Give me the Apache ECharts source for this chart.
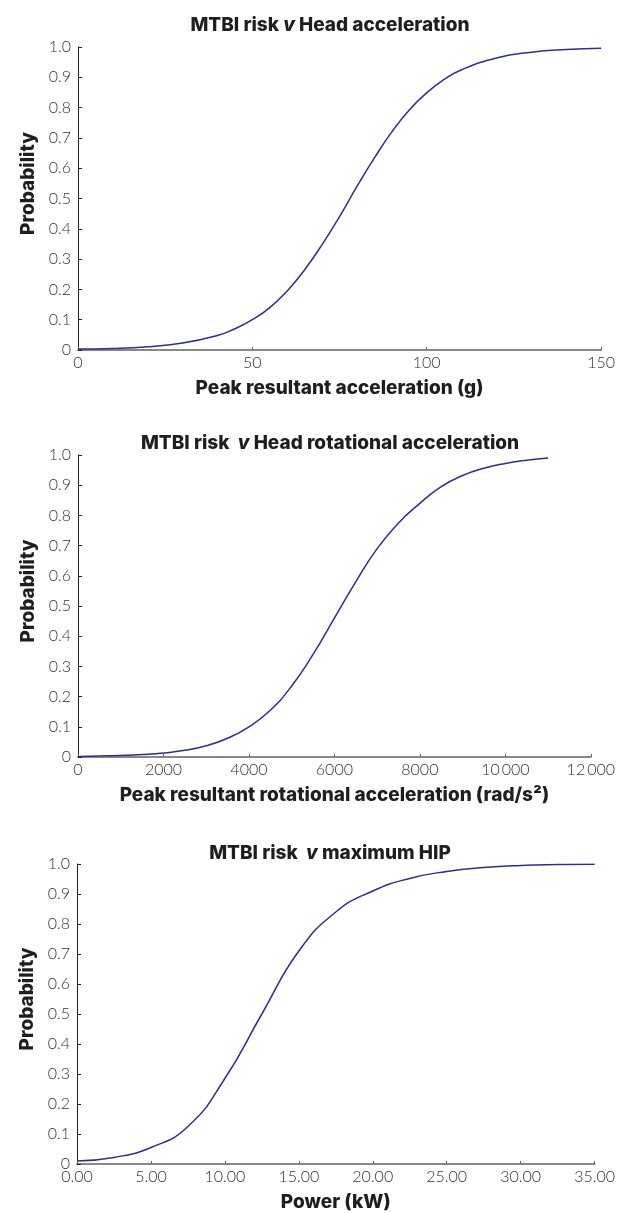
<!DOCTYPE html>
<html>
<head>
<meta charset="utf-8">
<script src="https://cdn.jsdelivr.net/npm/echarts@6/dist/echarts.min.js"></script>
<style>
  html, body { margin: 0; padding: 0; background: #fff; }
  #chart { width: 618px; height: 1213px; }
</style>
</head>
<body>
<div id="chart"></div>
<script>
// peak resultant acceleration (g) vs probability
const accelX = [0, 10, 20, 30, 40, 45, 50, 55, 60, 65, 70, 75, 80, 85, 90, 95, 100, 105, 110, 120, 130, 140, 150]
const accelP = [0.003, 0.005, 0.011, 0.023, 0.048, 0.07, 0.1, 0.14, 0.195, 0.265, 0.348, 0.44, 0.54, 0.634, 0.72, 0.792, 0.849, 0.893, 0.925, 0.964, 0.983, 0.992, 0.996]

// peak resultant rotational acceleration (rad/s2) vs probability
const rotX = [0, 500, 1000, 1500, 2000, 2500, 3000, 3500, 4000, 4500, 5000, 5500, 6000, 6500, 7000, 7500, 8000, 8500, 9000, 9500, 10000, 10500, 11000]
const rotP = [0.002, 0.003, 0.005, 0.008, 0.013, 0.022, 0.037, 0.062, 0.1, 0.155, 0.235, 0.34, 0.46, 0.58, 0.69, 0.775, 0.84, 0.895, 0.932, 0.956, 0.972, 0.983, 0.99]

// maximum HIP power (kW) vs probability
const hipX = [0, 250, 500, 750, 1000, 1250, 1500, 1750, 2000, 2250, 2500, 2750, 3000, 3250, 3500]
const hipP = [0.01, 0.022, 0.055, 0.125, 0.285, 0.5, 0.71, 0.84, 0.91, 0.952, 0.975, 0.988, 0.995, 0.998, 0.999]

const titles = [
  ['MTBI risk ', 'v', ' Head acceleration'],
  ['MTBI risk  ', 'v', ' Head rotational acceleration'],
  ['MTBI risk  ', 'v', ' maximum HIP']
]
const xNames = ['Peak resultant acceleration (g)', 'Peak resultant rotational acceleration (rad/s\u00b2)', 'Power (kW)']

const lineColor = '#2b2f8e'
const boldFont = 'Inter'
const lightFont = 'Lato'

const grids = [
  { left: 78, top: 47, width: 525, height: 303 },
  { left: 78, top: 455, width: 525, height: 302 },
  { left: 77, top: 864, width: 526, height: 303 }
]
const titleTops = [11, 429, 839]

const xRanges = [
  { max: 150, interval: 50, fmt: v => String(v) },
  { max: 12000, interval: 2000, fmt: v => v >= 10000 ? String(v).replace(/(\d{3})$/, '\u2009$1') : String(v) },
  { max: 3500, interval: 500, fmt: v => (v / 100).toFixed(2) }
]

function pairs(xs, ys) {
  return xs.map((x, i) => [x, ys[i]])
}
const seriesData = [pairs(accelX, accelP), pairs(rotX, rotP), pairs(hipX, hipP)]

const chart = echarts.init(document.getElementById('chart'))

const nameStyle = { fontFamily: boldFont, fontWeight: 800, fontSize: 19, color: '#1e1e1e' }

chart.setOption({
  animation: false,
  backgroundColor: '#fff',
  title: titles.map((t, i) => ({
    text: '{b|' + t[0] + '}{i|' + t[1] + '}{b|' + t[2] + '}',
    left: 325,
    textAlign: 'center',
    top: titleTops[i],
    textStyle: {
      rich: {
        b: nameStyle,
        i: Object.assign({}, nameStyle, { fontStyle: 'italic' })
      }
    }
  })),
  grid: grids,
  xAxis: xRanges.map((r, i) => ({
    type: 'value',
    gridIndex: i,
    min: 0,
    max: r.max,
    interval: r.interval,
    name: xNames[i],
    nameLocation: 'middle',
    nameGap: 29,
    nameTextStyle: nameStyle,
    axisLine: { lineStyle: { color: '#888', width: 2 } },
    axisTick: { inside: true, length: 3, lineStyle: { color: '#666' } },
    axisLabel: { formatter: r.fmt, fontFamily: lightFont, fontWeight: 300, fontSize: 16, color: '#333', margin: 5 },
    splitLine: { show: false }
  })),
  yAxis: grids.map((g, i) => ({
    type: 'value',
    gridIndex: i,
    min: 0,
    max: 1,
    interval: 0.1,
    name: 'Probability',
    nameLocation: 'middle',
    nameGap: 36,
    nameTextStyle: Object.assign({}, nameStyle, { padding: [0, 0, 0, 30] }),
    axisLine: { show: true, lineStyle: { color: '#222', width: 1 } },
    axisTick: { inside: true, length: 4, lineStyle: { color: '#222' } },
    axisLabel: { formatter: v => v === 0 ? '0' : v.toFixed(1), fontFamily: lightFont, fontWeight: 300, fontSize: 16, color: '#333', margin: 7 },
    splitLine: { show: false }
  })),
  series: seriesData.map((d, i) => ({
    type: 'line',
    xAxisIndex: i,
    yAxisIndex: i,
    data: d,
    smooth: true,
    showSymbol: false,
    lineStyle: { color: lineColor, width: 1.5 }
  }))
})
</script>
</body>
</html>
